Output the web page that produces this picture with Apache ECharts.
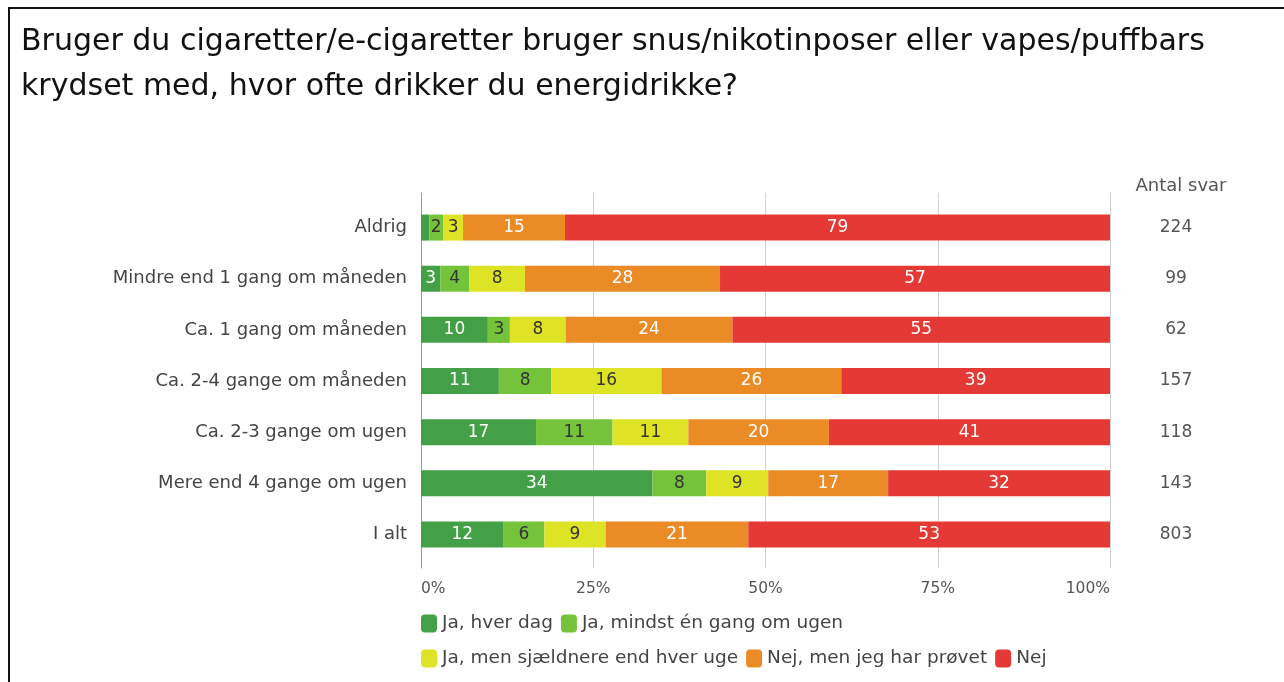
<!DOCTYPE html>
<html>
<head>
<meta charset="utf-8">
<script src="https://cdn.jsdelivr.net/npm/echarts@6/dist/echarts.min.js"></script>
<style>
  html, body { margin: 0; padding: 0; background: #fff; }
  #main { width: 1284px; height: 682px; }
</style>
</head>
<body>
<div id="main"></div>
<script>
var categories = ['Aldrig', 'Mindre end 1 gang om måneden', 'Ca. 1 gang om måneden',
  'Ca. 2-4 gange om måneden', 'Ca. 2-3 gange om ugen', 'Mere end 4 gange om ugen', 'I alt'];

// andele i procent
var hverDag    = [1.2, 2.8, 9.7, 11.3, 16.7, 33.6, 12.0];
var mindstUge  = [2.0, 4.2, 3.2, 7.6, 11.1, 7.8, 5.9];
var sjaeldnere = [2.9, 8.1, 8.1, 16.0, 11.0, 9.0, 8.9];
var proevet    = [14.8, 28.3, 24.2, 26.1, 20.4, 17.4, 20.7];
var nej        = [79.1, 56.6, 54.8, 39.0, 40.8, 32.2, 52.5];

var antalSvar = [224, 99, 62, 157, 118, 143, 803];
var xTicks = [0, 25, 50, 75, 100];

var seriesNames = ['Ja, hver dag', 'Ja, mindst én gang om ugen', 'Ja, men sjældnere end hver uge',
  'Nej, men jeg har prøvet', 'Nej'];
var colors = ['#43a047', '#74c33a', '#dfe325', '#ea8b26', '#e53935'];
var labelColors = ['#fff', '#333', '#333', '#fff', '#fff'];
var seriesData = [hverDag, mindstUge, sjaeldnere, proevet, nej];

var FONT = 'DejaVu Sans';

var myChart = echarts.init(document.getElementById('main'), null, { renderer: 'canvas' });

var series = [];
for (var i = 0; i < seriesData.length; i++) {
  series.push({
    name: seriesNames[i],
    type: 'bar',
    stack: 'total',
    xAxisIndex: 0,
    yAxisIndex: 0,
    barWidth: 26,
    itemStyle: { color: colors[i] },
    label: {
      show: true,
      position: 'inside',
      color: labelColors[i],
      fontSize: 17,
      fontFamily: FONT,
      formatter: function (p) {
        return p.value < 1.5 ? '' : Math.round(p.value);
      }
    },
    emphasis: { disabled: true },
    data: seriesData[i]
  });
}

var legendText = { fontSize: 18.5, color: '#444', fontFamily: FONT };

var option = {
  animation: false,
  textStyle: { fontFamily: FONT },
  title: [
    {
      text: 'Bruger du cigaretter/e-cigaretter bruger snus/nikotinposer eller vapes/puffbars\nkrydset med, hvor ofte drikker du energidrikke?',
      left: 16,
      top: 15,
      textStyle: {
        fontFamily: FONT,
        fontSize: 30,
        fontWeight: 'normal',
        color: '#111',
        lineHeight: 45
      }
    },
    {
      text: 'Antal svar',
      left: 1176,
      top: 172,
      textAlign: 'center',
      textStyle: { fontFamily: FONT, fontSize: 18, fontWeight: 'normal', color: '#555' }
    }
  ],
  graphic: [{
    type: 'rect',
    shape: { x: 9, y: 8, width: 1300, height: 700 },
    style: { fill: 'none', stroke: '#111', lineWidth: 2 },
    silent: true
  }],
  legend: [
    {
      data: seriesNames.slice(0, 2),
      left: 416, top: 609,
      icon: 'roundRect', itemWidth: 16, itemHeight: 18, itemGap: 8,
      textStyle: legendText, selectedMode: false
    },
    {
      data: seriesNames.slice(2),
      left: 416, top: 644,
      icon: 'roundRect', itemWidth: 16, itemHeight: 18, itemGap: 8,
      textStyle: legendText, selectedMode: false
    }
  ],
  grid: [
    { left: 421, right: 174, top: 202, height: 358 },
    { left: 421, right: 174, top: 193, height: 375 }
  ],
  xAxis: [
    { gridIndex: 0, type: 'value', min: 0, max: 100, show: false },
    {
      gridIndex: 1, type: 'value', min: xTicks[0], max: xTicks[xTicks.length - 1],
      interval: xTicks[1] - xTicks[0],
      axisLine: { show: false }, axisTick: { show: false },
      splitLine: { show: true, lineStyle: { color: '#d0d0d0', width: 1 } },
      axisLabel: {
        formatter: '{value}%', color: '#555', fontSize: 15.5, margin: 13,
        alignMinLabel: 'left', alignMaxLabel: 'right'
      }
    }
  ],
  yAxis: [
    {
      gridIndex: 0, type: 'category', data: categories, inverse: true,
      axisLine: { show: false }, axisTick: { show: false },
      axisLabel: { color: '#444', fontSize: 18, margin: 14 }
    },
    {
      gridIndex: 0, type: 'category', data: antalSvar, inverse: true, position: 'right',
      axisLine: { show: false }, axisTick: { show: false },
      axisLabel: { color: '#555', fontSize: 17, margin: 66, align: 'center' }
    },
    {
      gridIndex: 1, type: 'value', min: 0, max: 1,
      axisLine: { show: true, lineStyle: { color: '#999', width: 1 } },
      axisTick: { show: false }, axisLabel: { show: false }, splitLine: { show: false }
    }
  ],
  series: series
};

myChart.setOption(option);
</script>
</body>
</html>
